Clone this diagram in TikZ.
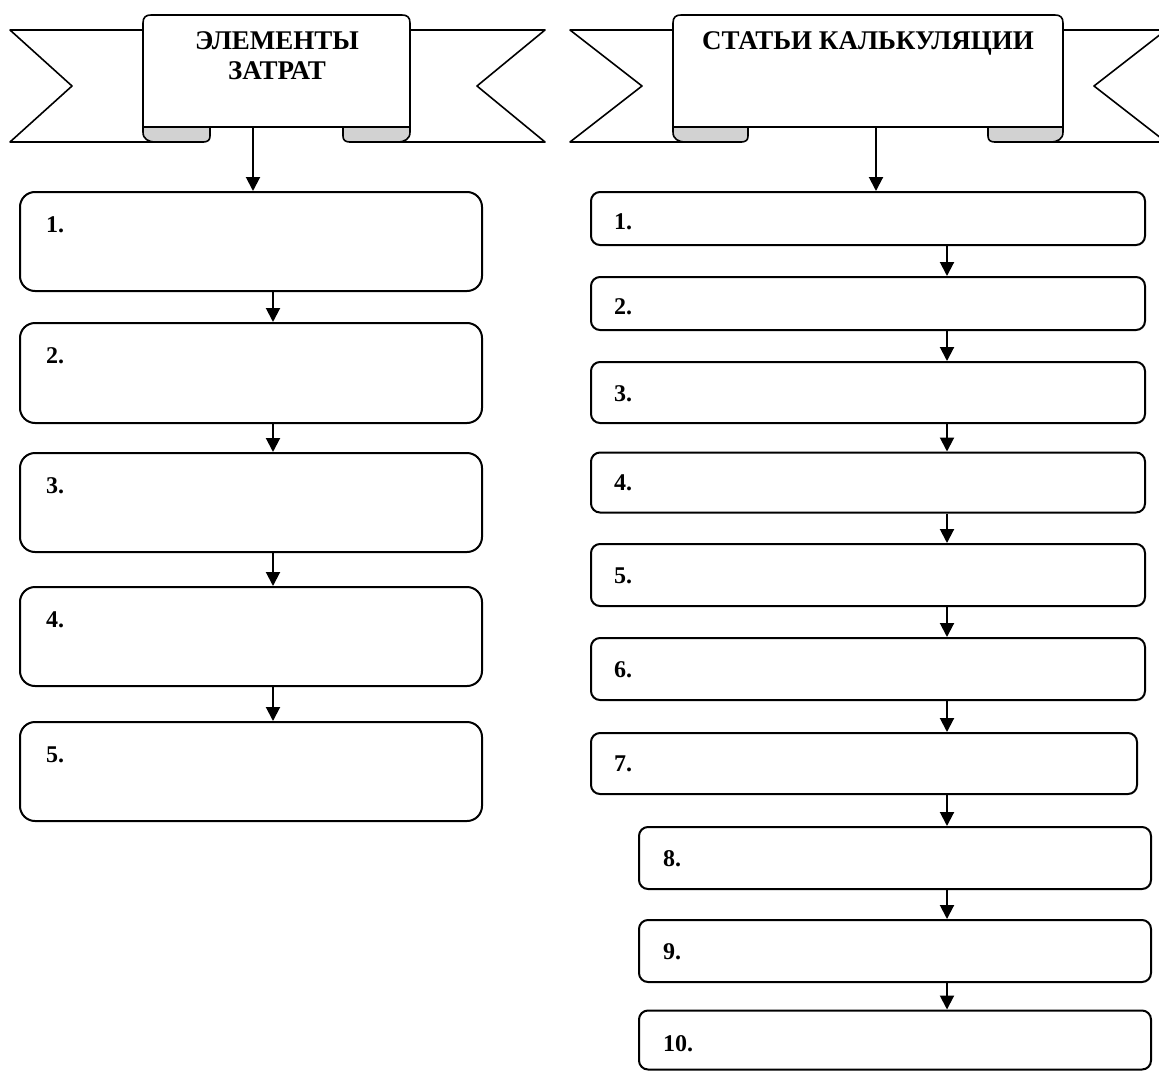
\documentclass[tikz,border=0pt]{standalone}
\usepackage{fontspec}
\setmainfont{Liberation Serif}
\usetikzlibrary{arrows.meta}
\begin{document}
\begin{tikzpicture}[x=1pt,y=-1pt,line width=2pt,line join=round,
  lbox/.style={draw,line width=2pt,rounded corners=15pt,minimum width=462pt,inner sep=0pt},
  rbox/.style={draw,line width=2pt,rounded corners=9pt,inner sep=0pt},
  num/.style={anchor=base west,inner sep=0pt,font=\fontsize{24}{28}\selectfont\bfseries},
  ttl/.style={anchor=base,inner sep=0pt,font=\fontsize{27}{31}\selectfont\bfseries},
  arr/.style={-{Triangle[width=14pt,length=14pt]},line width=2pt},
  fold/.style={draw,fill=gray!35,line width=1.6pt},
  tail/.style={draw,line width=1.6pt},
  panel/.style={draw,fill=white,line width=1.6pt}]
\useasboundingbox (0,0) rectangle (1159,1073);

% ---------- left banner ----------
\draw[tail] (143,30) -- (10,30) -- (72,86) -- (10,142) -- (204,142);
\draw[tail] (410,30) -- (545,30) -- (477,86) -- (545,142) -- (349,142);
\draw[panel] (143,127) -- (143,23) .. controls (143,17) and (146,15) .. (151,15)
  -- (402,15) .. controls (407,15) and (410,17) .. (410,23) -- (410,127) -- cycle;
\draw[fold] (210,127) -- (210,136) .. controls (210,140) and (208,142) .. (203,142)
  -- (156,142) .. controls (148,142) and (143,139) .. (143,132) -- (143,127) -- cycle;
\draw[fold] (343,127) -- (343,136) .. controls (343,140) and (345,142) .. (350,142)
  -- (397,142) .. controls (405,142) and (410,139) .. (410,132) -- (410,127) -- cycle;
\node[ttl] (t1a) at (277,50) {ЭЛЕМЕНТЫ};
\node[ttl] (t1b) at (277,80) {ЗАТРАТ};
\coordinate (p1) at (253,127);

% ---------- right banner ----------
\draw[tail] (673,30) -- (570,30) -- (642,86) -- (570,142) -- (742,142);
\draw[tail] (1063,30) -- (1166,30) -- (1094,86) -- (1166,142) -- (994,142);
\draw[panel] (673,127) -- (673,23) .. controls (673,17) and (676,15) .. (681,15)
  -- (1055,15) .. controls (1060,15) and (1063,17) .. (1063,23) -- (1063,127) -- cycle;
\draw[fold] (748,127) -- (748,136) .. controls (748,140) and (746,142) .. (741,142)
  -- (686,142) .. controls (678,142) and (673,139) .. (673,132) -- (673,127) -- cycle;
\draw[fold] (988,127) -- (988,136) .. controls (988,140) and (990,142) .. (995,142)
  -- (1050,142) .. controls (1058,142) and (1063,139) .. (1063,132) -- (1063,127) -- cycle;
\node[ttl] (t2) at (868,50) {СТАТЬИ КАЛЬКУЛЯЦИИ};
\coordinate (p2) at (876,127);

% ---------- left column ----------
\node[lbox,minimum height=99pt]  (a1) at (251,241.5) {};
\node[lbox,minimum height=100pt] (a2) at (251,373) {};
\node[lbox,minimum height=99pt]  (a3) at (251,502.5) {};
\node[lbox,minimum height=99pt]  (a4) at (251,636.5) {};
\node[lbox,minimum height=99pt]  (a5) at (251,771.5) {};
\node[num] (n1) at (45,232) {1.};
\node[num] (n2) at (45,363) {2.};
\node[num] (n3) at (45,493) {3.};
\node[num] (n4) at (45,627) {4.};
\node[num] (n5) at (45,762) {5.};
\coordinate (ax) at (273,0);
\draw[arr] (p1) -- (a1.north -| p1);
\draw[arr] (a1.south -| ax) -- (a2.north -| ax);
\draw[arr] (a2.south -| ax) -- (a3.north -| ax);
\draw[arr] (a3.south -| ax) -- (a4.north -| ax);
\draw[arr] (a4.south -| ax) -- (a5.north -| ax);

% ---------- right column ----------
\node[rbox,minimum width=554pt,minimum height=53pt] (b1) at (868,218.5) {};
\node[rbox,minimum width=554pt,minimum height=53pt] (b2) at (868,303.5) {};
\node[rbox,minimum width=554pt,minimum height=61pt] (b3) at (868,392.5) {};
\node[rbox,minimum width=554pt,minimum height=60pt] (b4) at (868,482.5) {};
\node[rbox,minimum width=554pt,minimum height=62pt] (b5) at (868,575) {};
\node[rbox,minimum width=554pt,minimum height=62pt] (b6) at (868,669) {};
\node[rbox,minimum width=546pt,minimum height=61pt] (b7) at (864,763.5) {};
\node[rbox,minimum width=512pt,minimum height=62pt] (b8) at (895,858) {};
\node[rbox,minimum width=512pt,minimum height=62pt] (b9) at (895,951) {};
\node[rbox,minimum width=512pt,minimum height=59pt] (b10) at (895,1040) {};
\node[num] (m1) at (613,229) {1.};
\node[num] (m2) at (613,314) {2.};
\node[num] (m3) at (613,401) {3.};
\node[num] (m4) at (613,490) {4.};
\node[num] (m5) at (613,583) {5.};
\node[num] (m6) at (613,677) {6.};
\node[num] (m7) at (613,771) {7.};
\node[num] (m8) at (662,866) {8.};
\node[num] (m9) at (662,959) {9.};
\node[num] (m10) at (662,1051) {10.};
\coordinate (bx) at (947,0);
\draw[arr] (p2) -- (b1.north -| p2);
\draw[arr] (b1.south -| bx) -- (b2.north -| bx);
\draw[arr] (b2.south -| bx) -- (b3.north -| bx);
\draw[arr] (b3.south -| bx) -- (b4.north -| bx);
\draw[arr] (b4.south -| bx) -- (b5.north -| bx);
\draw[arr] (b5.south -| bx) -- (b6.north -| bx);
\draw[arr] (b6.south -| bx) -- (b7.north -| bx);
\draw[arr] (b7.south -| bx) -- (b8.north -| bx);
\draw[arr] (b8.south -| bx) -- (b9.north -| bx);
\draw[arr] (b9.south -| bx) -- (b10.north -| bx);
\end{tikzpicture}
\end{document}
